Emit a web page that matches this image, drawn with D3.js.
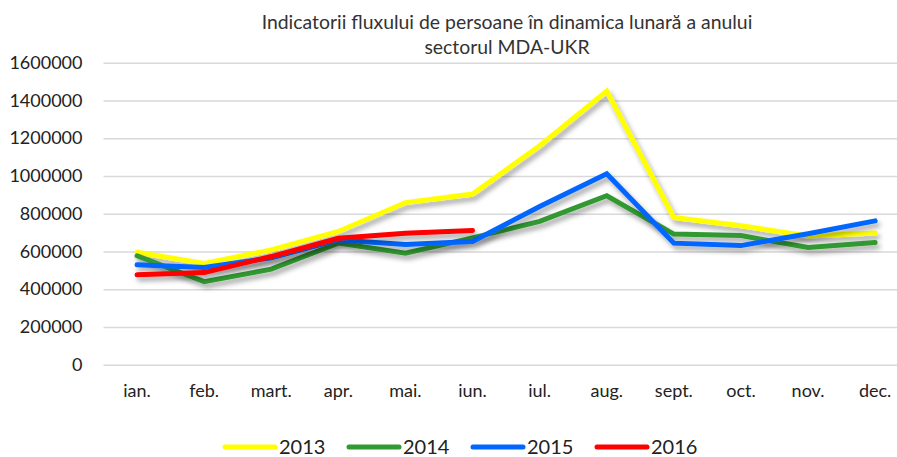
<!DOCTYPE html>
<html>
<head>
<meta charset="utf-8">
<script src="https://cdn.jsdelivr.net/npm/d3@7"></script>
<style>
  html, body { margin: 0; padding: 0; background: #fff; }
  svg { display: block; font-family: Lato, "Open Sans", sans-serif; }
</style>
</head>
<body>
<svg id="chart" width="897" height="457"></svg>
<script>
// Chart data
const months = ["ian.", "feb.", "mart.", "apr.", "mai.", "iun.", "iul.", "aug.", "sept.", "oct.", "nov.", "dec."];
const years = ["2013", "2014", "2015", "2016"];
const values2013 = [596000, 536000, 608000, 706000, 859000, 904000, 1160000, 1450000, 780000, 736000, 682000, 698000];
const values2014 = [577000, 440000, 506000, 644000, 591000, 672000, 759000, 895000, 692000, 684000, 621000, 647000];
const values2015 = [529000, 515000, 566000, 661000, 637000, 653000, 838000, 1012000, 644000, 631000, 694000, 762000];
const values2016 = [476000, 488000, 573000, 670000, 697000, 711000];
const yTicks = [0, 200000, 400000, 600000, 800000, 1000000, 1200000, 1400000, 1600000];
const colors = ["#ffff00", "#339933", "#0066ff", "#ff0000"];
const titleLines = ["Indicatorii fluxului de persoane în dinamica lunară a anului", "sectorul MDA-UKR"];

const series = [values2013, values2014, values2015, values2016];

const width = 897, height = 457;
const margin = { top: 62.7, left: 103.5, bottom: 364.7 };

const svg = d3.select('#chart');

// drop shadow like the Excel line effect
const defs = svg.append('defs');
const filter = defs.append('filter')
    .attr('id', 'shadow')
    .attr('x', '-10%').attr('y', '-20%')
    .attr('width', '130%').attr('height', '150%');
filter.append('feDropShadow')
    .attr('dx', 2.5).attr('dy', 4)
    .attr('stdDeviation', 2.5)
    .attr('flood-color', '#000')
    .attr('flood-opacity', 0.35);

const xScale = d3.scaleBand()
    .domain(months)
    .range([margin.left, margin.left + 67.1 * 12]);

const yScale = d3.scaleLinear()
    .domain([0, 1600000])
    .range([margin.bottom, margin.top]);

// title
svg.append('g')
    .selectAll('text')
    .data(titleLines)
    .join('text')
    .attr('x', 507)
    .attr('y', (d, i) => 29 + i * 25)
    .attr('text-anchor', 'middle')
    .style('font-size', '19.4px')
    .attr('fill', '#333')
    .text(d => d);

// gridlines
svg.append('g')
    .attr('class', 'gridlines')
    .attr('transform', `translate(${margin.left},0)`)
    .call(d3.axisLeft(yScale)
        .tickValues(yTicks)
        .tickFormat('')
        .tickSize(-(width - margin.left)))
    .call(g => g.select('.domain').remove())
    .call(g => g.selectAll('line').attr('stroke', '#d9d9d9').attr('stroke-width', 1.4));

// y axis labels
svg.append('g')
    .attr('transform', `translate(${margin.left},0)`)
    .call(d3.axisLeft(yScale)
        .tickValues(yTicks)
        .tickFormat(d3.format('d'))
        .tickSize(0)
        .tickPadding(21))
    .call(g => g.select('.domain').remove())
    .call(g => g.selectAll('text')
        .attr('fill', '#222')
        .style('font-size', '18px')
        .style('font-family', 'Lato, sans-serif'));

// x axis labels
svg.append('g')
    .attr('transform', `translate(0,${margin.bottom})`)
    .call(d3.axisBottom(xScale).tickSize(0).tickPadding(20))
    .call(g => g.select('.domain').remove())
    .call(g => g.selectAll('text')
        .attr('fill', '#222')
        .style('font-size', '18px')
        .style('font-family', 'Lato, sans-serif'));

// lines
const line = d3.line()
    .x((d, i) => xScale(months[i]) + xScale.bandwidth() / 2)
    .y(d => yScale(d));

svg.append('g')
    .attr('class', 'lines')
    .selectAll('path')
    .data(series)
    .join('path')
    .attr('d', d => line(d))
    .attr('fill', 'none')
    .attr('stroke', (d, i) => colors[i])
    .attr('stroke-width', 5)
    .attr('stroke-linecap', 'round')
    .attr('stroke-linejoin', 'miter')
    .attr('filter', 'url(#shadow)');

// legend
const legend = svg.append('g')
    .attr('class', 'legend')
    .selectAll('g')
    .data(years)
    .join('g')
    .attr('transform', (d, i) => `translate(${225 + i * 124},447)`);

legend.append('line')
    .attr('x1', 0).attr('x2', 50)
    .attr('stroke', (d, i) => colors[i])
    .attr('stroke-width', 5)
    .attr('stroke-linecap', 'round');

legend.append('text')
    .attr('x', 54)
    .attr('y', 7)
    .style('font-size', '20px')
    .attr('fill', '#222')
    .text(d => d);
</script>
</body>
</html>
